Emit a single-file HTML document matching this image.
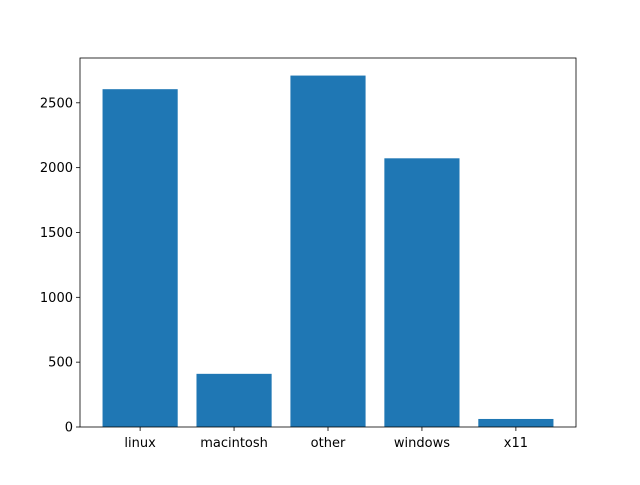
<!DOCTYPE html>
<html><head><meta charset="utf-8"><style>
body{margin:0;background:#fff;}
svg text{font-family:"DejaVu Sans","Liberation Sans",sans-serif;font-size:13px;fill:#000;}
</style></head><body>
<svg id="chart" width="640" height="480" xmlns="http://www.w3.org/2000/svg">
<rect width="640" height="480" fill="#fff"/>
<g id="bars"></g>
<g id="axes"></g>
</svg>
<script>
const categories = ["linux","macintosh","other","windows","x11"];
const values = [2605, 410, 2710, 2072, 62];
const yTicks = [0,500,1000,1500,2000,2500];

const L=80,R=576,T=58,B=427;
const ymax=Math.max(...values)*1.05;
const xmin=-0.64,xmax=categories.length-1+0.64;
const xs=v=>L+(v-xmin)/(xmax-xmin)*(R-L);
const ys=v=>B-v/ymax*(B-T);
const ns="http://www.w3.org/2000/svg";
const bars=document.getElementById('bars'),axes=document.getElementById('axes');
function mk(tag,attrs,parent){const e=document.createElementNS(ns,tag);for(const k in attrs)e.setAttribute(k,attrs[k]);parent.appendChild(e);return e;}
values.forEach((v,i)=>{
  const r=mk('rect',{x:xs(i-0.4),y:ys(v),width:xs(i+0.4)-xs(i-0.4),height:ys(0)-ys(v),fill:'#1f77b4'},bars);
  
  
  mk('line',{x1:xs(i),x2:xs(i),y1:B,y2:B+4,stroke:'#000','stroke-width':0.8},axes);
  const t=mk('text',{x:xs(i),y:B+20,'text-anchor':'middle'},axes);
  t.textContent=categories[i];
  
  
});
yTicks.forEach(v=>{
  mk('line',{x1:L-4,x2:L,y1:ys(v),y2:ys(v),stroke:'#000','stroke-width':0.8},axes);
  const t=mk('text',{x:L-7,y:ys(v)+4.5,'text-anchor':'end'},axes);
  t.textContent=v;
  
  
});
const f=mk('rect',{x:L,y:T,width:R-L,height:B-T,fill:'none',stroke:'#000','stroke-width':0.8},axes);


</script>
</body></html>
